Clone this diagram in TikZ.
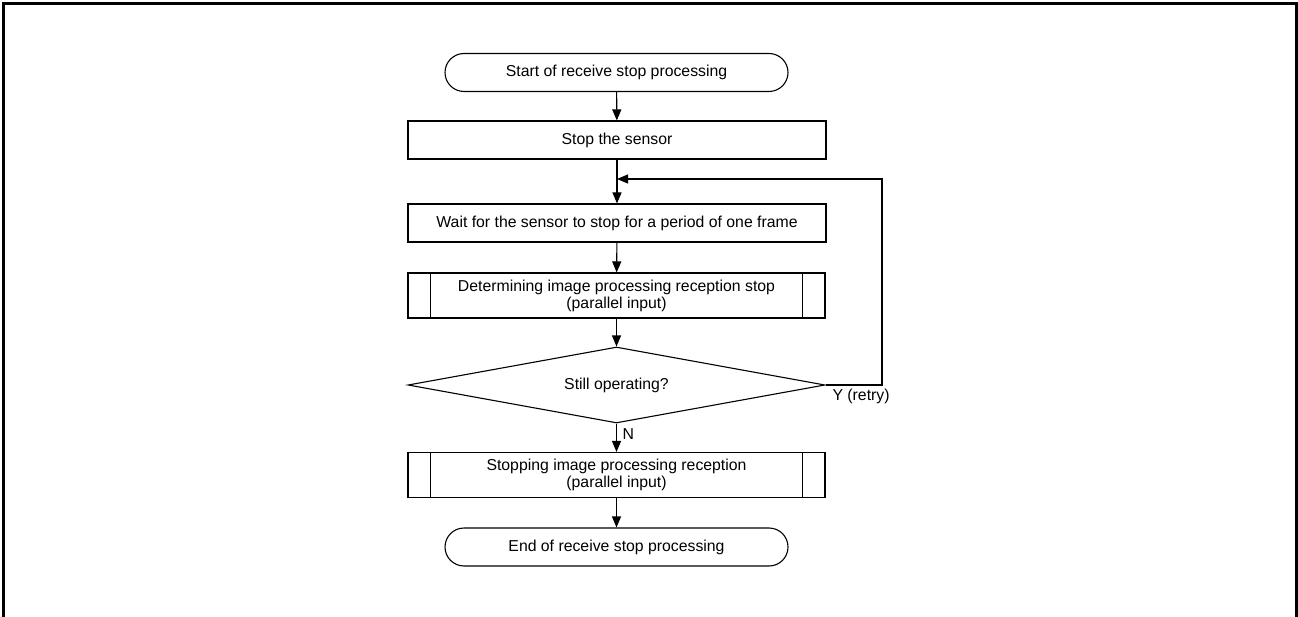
\documentclass[tikz,border=0pt]{standalone}
\usepackage{fontspec}
\setmainfont{Liberation Sans}
\usetikzlibrary{shapes.geometric,arrows.meta}

\tikzset{
  terminal/.style={draw, rounded corners=19pt, minimum width=343, minimum height=38, inner sep=0pt},
  process/.style={draw, minimum width=418, minimum height=38, inner sep=0pt},
  subproc/.style={draw, minimum width=417, minimum height=45, inner sep=0pt, align=center},
  decision/.style={draw, diamond, aspect=6, minimum width=417, minimum height=76, inner sep=0pt},
  flow/.style={-{Triangle[length=11pt,width=9pt]}},
}

\begin{document}
\begin{tikzpicture}[x=1pt, y=-1pt, line width=1.1pt, line join=miter,
  font=\fontsize{15.8}{17}\selectfont]
  \useasboundingbox (0,0) rectangle (1298,617);
  % Frame
  \draw[line width=3pt] (3,618) -- (3,3.5) -- (1296,3.5) -- (1296,618);

  % Steps
  \node[terminal] (start) at (616.5,72.5) {Start of receive stop processing};
  \node[process] (sensor) at (617,140) {Stop the sensor};
  \node[process] (wait) at (617,223) {Wait for the sensor to stop for a period of one frame};
  \node[subproc] (judge) at (616.5,295.5) {Determining image processing reception stop\\(parallel input)};
  \node[decision] (still) at (616.5,385) {Still operating?};
  \node[subproc] (stopping) at (616.5,475) {Stopping image processing reception\\(parallel input)};
  \node[terminal] (finish) at (616.5,547) {End of receive stop processing};

  % Side bars of the predefined processes
  \foreach \n in {judge, stopping} {
    \draw ([xshift=23]\n.north west) -- ([xshift=23]\n.south west);
    \draw ([xshift=-23]\n.north east) -- ([xshift=-23]\n.south east);
  }

  % Connectors
  \coordinate (join) at (617,179);
  \coordinate (corner) at (882,179);
  \draw[flow] (start) -- (sensor);
  \draw[flow] (sensor) -- (wait);
  \draw[flow] (wait) -- (judge);
  \draw[flow] (judge) -- (still);
  \draw[flow] (still) -- (stopping);
  \draw[flow] (stopping) -- (finish);
  \draw[flow] (still.east) -| (corner) -- (join);

  % Labels
  \node[anchor=west, inner sep=1pt] (ylab) at (831,396.5) {Y (retry)};
  \node[anchor=west, inner sep=1pt] (nlab) at (621,434) {N};
\end{tikzpicture}
\end{document}
